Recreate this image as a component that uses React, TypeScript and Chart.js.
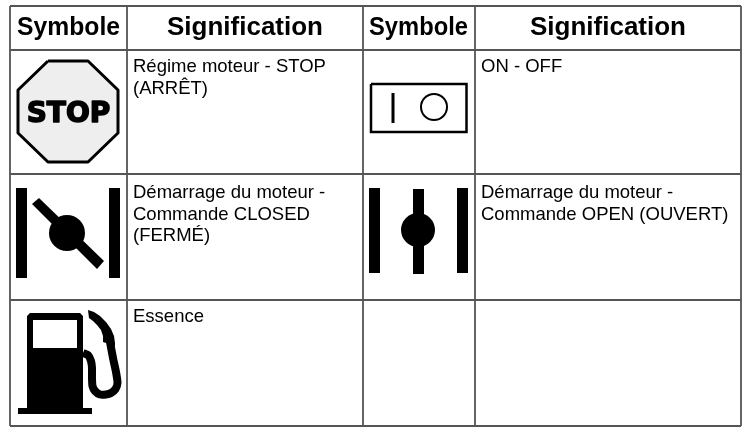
import React, { useEffect, useRef } from "react";
import { Chart, registerables } from "chart.js";

Chart.register(...registerables);

type P = [number, number];

const columnRules = [10, 127, 363, 475, 741];
const rowRules = [6, 50, 174, 300, 426];

const headers = ["Symbole", "Signification", "Symbole", "Signification"];
const headerAnchors: P[] = [[17, 35], [245, 35], [369, 35], [608, 35]];
const headerWidths = [103, 158, 99, 158];

const cellLines = [
  ["Régime moteur - STOP", "(ARRÊT)"],
  ["ON - OFF"],
  ["Démarrage du moteur -", "Commande CLOSED", "(FERMÉ)"],
  ["Démarrage du moteur -", "Commande OPEN (OUVERT)"],
  ["Essence"],
];
const cellAnchors: P[] = [[133, 72], [481, 72], [133, 198], [481, 198], [133, 322]];

const stopOctagon: P[] = [[48, 61], [88, 61], [118, 90], [118, 133], [88, 162], [48, 162], [18, 133], [18, 90], [48, 61]];
const stopWord = "STOP";

const switchFrame: P[] = [[371, 84], [466.5, 84], [466.5, 132], [371, 132], [371, 84]];
const switchBar: P[] = [[393, 93], [393, 123]];
const switchRing: P[] = [[434, 107]];

const closedLeftBar: P[] = [[16, 188], [27, 188], [27, 278], [16, 278]];
const closedRightBar: P[] = [[109, 188], [120, 188], [120, 278], [109, 278]];
const closedBlade: P[] = [[39, 198], [104, 261], [97, 269], [32, 204]];
const closedHub: P[] = [[67, 233]];

const openLeftBar: P[] = [[369, 188], [380, 188], [380, 273], [369, 273]];
const openRightBar: P[] = [[457, 188], [468, 188], [468, 273], [457, 273]];
const openStem: P[] = [[413, 189], [424, 189], [424, 274], [413, 274]];
const openHub: P[] = [[418, 230]];

const pumpBase: P[] = [[18, 408], [92, 408], [92, 414], [18, 414]];
const pumpBody: P[] = [[30, 313], [80, 313], [83, 316], [83, 408], [27, 408], [27, 316]];
const pumpWindow: P[] = [[33, 320], [77, 320], [77, 348], [33, 348]];
const pumpNozzle: P[] = [[88, 310], [94, 312], [100, 316], [106, 322], [111, 329], [114, 336], [115, 343], [115, 346], [103, 342], [103, 336], [101, 330], [97, 325], [93, 321], [89, 318]];
const pumpHose: P[] = [[110, 342], [113, 358], [116, 372], [117.5, 383], [115.5, 389], [111, 393], [106, 394.5], [100, 394.5], [95, 391], [92.5, 386], [92, 378], [92, 368], [91, 361], [88, 355], [83, 353]];

const pts = (a: P[]) => a.map(([x, y]) => ({ x, y }));

const solid = (data: P[], color = "#000") => ({
  data: pts(data), showLine: true, pointRadius: 0, borderWidth: 0,
  borderColor: color, backgroundColor: color, fill: "shape", tension: 0,
});
const stroke = (data: P[], width: number, color = "#000", tension = 0) => ({
  data: pts(data), showLine: true, pointRadius: 0, borderWidth: width,
  borderColor: color, fill: false, tension,
});
const dot = (data: P[], radius: number, fillColor: string, border = 0) => ({
  data: pts(data), showLine: false, pointRadius: radius, pointBorderWidth: border,
  pointBorderColor: "#000", pointBackgroundColor: fillColor, pointStyle: "circle",
});

const tableText = {
  id: "tableText",
  afterDatasetsDraw(chart: any) {
    const { ctx, scales: { x, y } } = chart;
    ctx.save();
    ctx.fillStyle = "#000";
    ctx.textBaseline = "alphabetic";
    ctx.font = 'bold 26px "Liberation Sans"';
    headers.forEach((h, i) => {
      const [ax, ay] = headerAnchors[i];
      const w = headerWidths[i];
      ctx.textAlign = i % 2 === 0 ? "left" : "center";
      ctx.fillText(h, x.getPixelForValue(ax), y.getPixelForValue(ay), w);
    });
    ctx.textAlign = "left";
    ctx.font = '18.5px "Liberation Sans"';
    cellLines.forEach((lines, i) => {
      const [ax, ay] = cellAnchors[i];
      lines.forEach((l, j) => ctx.fillText(l, x.getPixelForValue(ax), y.getPixelForValue(ay + j * 21.5)));
    });
    ctx.textAlign = "center";
    ctx.font = 'bold 28px "DejaVu Sans"';
    ctx.lineWidth = 1.5;
    ctx.lineJoin = "round";
    ctx.strokeStyle = "#000";
    ctx.fillText(stopWord, x.getPixelForValue(68.5), y.getPixelForValue(122), 85);
    ctx.strokeText(stopWord, x.getPixelForValue(68.5), y.getPixelForValue(122), 85);
    ctx.restore();
  },
};

export default function App() {
  const ref = useRef<HTMLCanvasElement>(null);
  useEffect(() => {
    const frame = "#555";
    const w = columnRules[columnRules.length - 1];
    const h = rowRules[rowRules.length - 1];
    const datasets: any[] = [
      dot(switchRing, 13, "rgba(0,0,0,0)", 2),
      dot(closedHub, 18, "#000"),
      dot(openHub, 17, "#000"),
      solid(pumpWindow, "#fff"),
      stroke(switchFrame, 2.5),
      stroke(switchBar, 3),
      solid(closedLeftBar),
      solid(closedRightBar),
      solid(closedBlade),
      solid(openLeftBar),
      solid(openRightBar),
      solid(openStem),
      solid(pumpBase),
      solid(pumpBody),
      solid(pumpNozzle),
      { ...stroke(pumpHose, 8, "#000", 0.2), borderJoinStyle: "round" },
      { ...solid(stopOctagon, "#eeeeee"), borderWidth: 3, borderColor: "#000", borderJoinStyle: "round" },
      ...columnRules.map((c) => stroke([[c, rowRules[0]], [c, h]], 1.8, frame)),
      ...rowRules.map((r) => stroke([[columnRules[0], r], [w, r]], 1.8, frame)),
    ];
    const chart = new Chart(ref.current!, {
      type: "scatter",
      data: { datasets },
      options: {
        animation: false,
        responsive: false,
        layout: { padding: 0, autoPadding: false },
        clip: false,
        plugins: { legend: { display: false }, tooltip: { enabled: false } },
        scales: {
          x: { type: "linear", min: 0, max: 748, display: false },
          y: { type: "linear", min: 0, max: 427, reverse: true, display: false },
        },
      } as any,
      plugins: [tableText],
    });
    return () => chart.destroy();
  }, []);
  return (
    <canvas
      ref={ref}
      width={748}
      height={427}
      style={{ position: "fixed", left: 0, top: 0, width: 748, height: 427, filter: "blur(0.3px)" }}
    />
  );
}
